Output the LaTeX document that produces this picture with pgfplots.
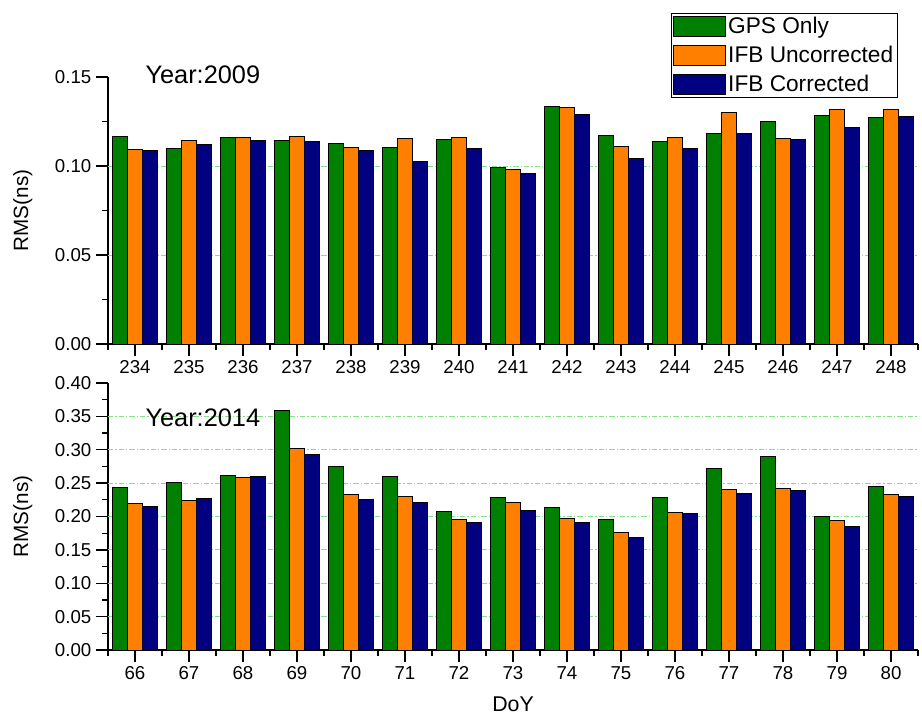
\documentclass[border=0pt]{standalone}
\usepackage{fontspec}
\setmainfont{Liberation Sans}
\usepackage{pgfplots}
\usepackage{pgfplotstable}
\pgfplotsset{compat=1.18}

\definecolor{cgps}{RGB}{0,128,0}
\definecolor{cunc}{RGB}{255,128,0}
\definecolor{ccor}{RGB}{0,0,128}
\definecolor{cgrid}{RGB}{130,225,130}

% RMS (ns) per day of year: GPS only, IFB uncorrected, IFB corrected
\pgfplotstableread{
x  gps     unc     cor
0  0.1164  0.1093  0.1088
1  0.1101  0.1142  0.1121
2  0.1159  0.1162  0.1142
3  0.1142  0.1166  0.1136
4  0.1129  0.1103  0.1086
5  0.1106  0.1155  0.1024
6  0.1149  0.1159  0.1097
7  0.0994  0.0982  0.0959
8  0.1337  0.1330  0.1292
9  0.1172  0.1109  0.1043
10 0.1139  0.1161  0.1096
11 0.1182  0.1300  0.1185
12 0.1251  0.1155  0.1148
13 0.1285  0.1315  0.1219
14 0.1275  0.1315  0.1279
}\yeartwothousandnine

\pgfplotstableread{
x  gps     unc     cor
0  0.2435  0.2190  0.2150
1  0.2505  0.2240  0.2270
2  0.2610  0.2580  0.2595
3  0.3590  0.3020  0.2930
4  0.2755  0.2335  0.2255
5  0.2595  0.2300  0.2210
6  0.2075  0.1955  0.1910
7  0.2278  0.2215  0.2095
8  0.2130  0.1970  0.1915
9  0.1960  0.1760  0.1685
10 0.2285  0.2055  0.2040
11 0.2720  0.2410  0.2345
12 0.2905  0.2425  0.2385
13 0.1995  0.1935  0.1855
14 0.2450  0.2330  0.2300
}\yeartwothousandfourteen

\pgfplotsset{
  rmsaxis/.style={
    width=607.5pt, height=200.25pt, scale only axis,
    clip=false,
    ybar=0pt, bar width=11.2pt,
    xmin=-0.5, xmax=14.5,
    xtick={0,...,14},
    minor xtick={-0.5,0.5,...,14.5},
    axis x line*=bottom, axis y line*=left,
    axis line style={-, line width=1.1pt},
    tick style={black, line width=1pt},
    tick align=outside,
    major tick length=9pt, minor tick length=4.5pt,
    ymin=0,
    /pgf/number format/assume math mode=true,
    /pgf/number format/.cd, fixed, fixed zerofill, precision=2, /pgfplots/.cd,
    ticklabel style={font=\fontsize{14}{14}\selectfont},
    ylabel={RMS(ns)},
    ylabel style={font=\fontsize{15.5}{15.5}\selectfont, at={(axis description cs:-0.093,0.5)}, anchor=south, inner sep=0pt},
    extra y tick labels={},
    extra y tick style={grid=major, major tick length=0pt,
      major grid style={cgrid, line width=0.7pt, dash pattern=on 4pt off 1.5pt on 1pt off 1.5pt}},
  },
  barleg/.style={legend image code/.code={\draw[##1, draw=black, line width=0.7pt] (0pt,-7.5pt) rectangle (39pt,7.5pt);}},
}

\begin{document}
\begin{tikzpicture}
\useasboundingbox (-81pt,-280.5pt) rectangle (610.5pt,258pt);
\begin{axis}[rmsaxis,
  ymax=0.15,
  ytick={0,0.05,0.10,0.15},
  minor ytick={0.025,0.075,0.125},
  extra y ticks={0.05,0.10},
  xticklabels={234,235,236,237,238,239,240,241,242,243,244,245,246,247,248},
  legend style={at={(axis description cs:0.975,1.24)}, anchor=north east,
    draw=black, line width=0.8pt, fill=white,
    font=\fontsize{17}{20}\selectfont,
    inner xsep=1pt, inner ysep=1pt,
    row sep=3.8pt,
    cells={anchor=west}},
]
\addplot[fill=cgps, draw=black, line width=0.7pt, barleg] table[x=x, y=gps] {\yeartwothousandnine};
\addplot[fill=cunc, draw=black, line width=0.7pt, barleg] table[x=x, y=unc] {\yeartwothousandnine};
\addplot[fill=ccor, draw=black, line width=0.7pt, barleg] table[x=x, y=cor] {\yeartwothousandnine};
\legend{GPS Only, IFB Uncorrected, IFB Corrected}
\node[anchor=west, inner sep=0pt, font=\fontsize{19}{19}\selectfont] at (axis description cs:0.046,1.007) {Year:2009};
\end{axis}

\begin{axis}[rmsaxis, at={(0pt,-229.5pt)}, anchor=south west,
  ymax=0.40,
  ytick={0,0.05,...,0.40},
  minor ytick={0.025,0.075,...,0.375},
  extra y ticks={0.05,0.10,0.15,0.20,0.25,0.30,0.35},
  xticklabels={66,67,68,69,70,71,72,73,74,75,76,77,78,79,80},
  xlabel={DoY},
  xlabel style={font=\fontsize{16}{16}\selectfont, at={(axis description cs:0.5,-0.176)}, anchor=north, inner sep=0pt},
]
\addplot[fill=cgps, draw=black, line width=0.7pt] table[x=x, y=gps] {\yeartwothousandfourteen};
\addplot[fill=cunc, draw=black, line width=0.7pt] table[x=x, y=unc] {\yeartwothousandfourteen};
\addplot[fill=ccor, draw=black, line width=0.7pt] table[x=x, y=cor] {\yeartwothousandfourteen};
\node[anchor=west, inner sep=0pt, font=\fontsize{19}{19}\selectfont] at (axis description cs:0.046,0.869) {Year:2014};
\end{axis}
\end{tikzpicture}
\end{document}
